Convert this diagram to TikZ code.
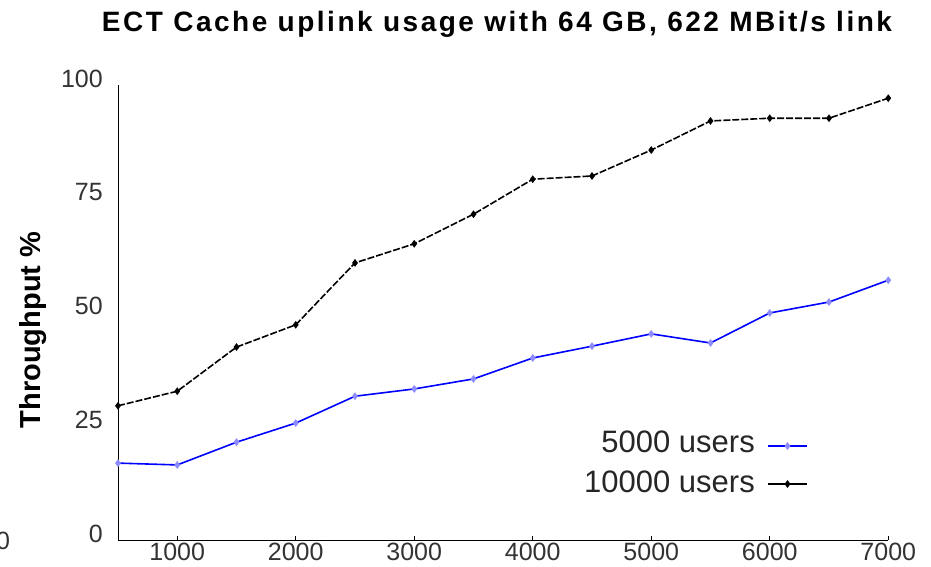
\documentclass[tikz,border=0pt]{standalone}
\usepackage{fontspec}
\setmainfont{Liberation Sans}
\usetikzlibrary{positioning,plotmarks}
\tikzset{
  ticklbl/.style={font=\fontsize{25}{25}\selectfont, text=black!80, inner sep=0pt},
  legendlbl/.style={font=\fontsize{31}{31}\selectfont, text=black!85, inner sep=0pt},
  fivek/.style={draw=blue, line width=1.6pt, mark=diamond*, mark size=2.6pt,
    mark options={solid, draw=blue!45, fill=blue!45}},
  tenk/.style={draw=black, line width=1.6pt, dash pattern=on 7pt off 2pt,
    mark=diamond*, mark size=2.6pt, mark options={solid, fill=black}},
}

\begin{document}
\begin{tikzpicture}[x=1pt,y=1pt]
\useasboundingbox (0,0) rectangle (931,566);
\node[font=\bfseries\fontsize{28}{28}\selectfont\addfontfeature{LetterSpace=9}] (title) at (497,542)
  {ECT Cache uplink usage with 64 GB, 622 MBit/s link};
\node[rotate=90, font=\bfseries\fontsize{29}{29}\selectfont] (ylab) at (33,236) {Throughput \%};
\node[ticklbl] (xl500) at (3,25) {0};

\begin{scope}[shift={(58.75,26)}, x=0.1185pt, y=4.55pt]
% axes
\draw[line width=1pt] (500,100) -- (500,0) -- (7000,0);
\foreach \v in {1000,2000,...,7000} {
  \draw[line width=0.8pt] (\v,0) -- (\v,0.8);
  \node[ticklbl, anchor=north] (xl\v) at (\v,-0.7) {\v};
}
\foreach \w in {0,25,50,75,100}
  \node[ticklbl, anchor=east] (yl\w) at (373,\w+1.4) {\w};

% 10000 users
\draw[tenk] plot coordinates {(500,29.5) (1000,32.7) (1500,42.4) (2000,47.3)
  (2500,60.9) (3000,65.1) (3500,71.6) (4000,79.3) (4500,80.0) (5000,85.7)
  (5500,92.1) (6000,92.7) (6500,92.7) (7000,97.1)};
% 5000 users
\draw[fivek] plot coordinates {(500,16.9) (1000,16.5) (1500,21.5) (2000,25.7)
  (2500,31.6) (3000,33.2) (3500,35.4) (4000,40.0) (4500,42.6) (5000,45.3)
  (5500,43.3) (6000,49.9) (6500,52.3) (7000,57.1)};
\end{scope}

% legend
\node[legendlbl, anchor=east] (lgfive) at (755,124) {5000 users};
\node[legendlbl, anchor=east] (lgten) at (755,84) {10000 users};
\coordinate (f1) at (768,120);
\coordinate (f2) at (807,120);
\coordinate (t1) at (768,82);
\coordinate (t2) at (807,82);
\draw[blue, line width=1.6pt] (f1) -- (f2);
\draw[fivek, draw=none] plot coordinates {(787.5,120)};
\draw[black, line width=1.6pt] (t1) -- (t2);
\draw[tenk, draw=none] plot coordinates {(787.5,82)};
\end{tikzpicture}
\end{document}
